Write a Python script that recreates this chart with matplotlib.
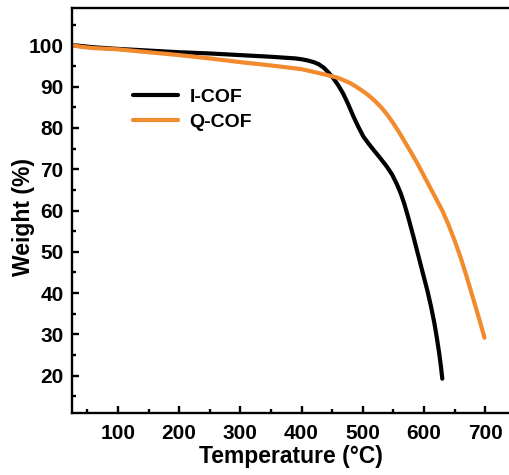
import numpy as np
import matplotlib
matplotlib.use("Agg")
import matplotlib.pyplot as plt
from matplotlib.ticker import MultipleLocator

plt.rcParams['font.family'] = ['Liberation Sans', 'DejaVu Sans']
plt.rcParams['font.weight'] = 'bold'

# TGA curves
i_temp = [25, 40, 60, 100, 150, 200, 250, 300, 350, 390, 400, 410, 420, 428,
          436, 444, 452, 460, 468, 476, 485, 493, 501, 510, 518, 528, 539, 548,
          556, 562, 568, 575, 583, 591, 599, 606, 612, 617, 621, 625, 628, 630]
i_weight = [100, 99.8, 99.5, 99.1, 98.7, 98.3, 98.0, 97.6, 97.2, 96.8, 96.6, 96.3,
            95.9, 95.4, 94.6, 93.4, 92.0, 90.3, 88.3, 85.8, 82.7, 80.2, 77.9, 76.1,
            74.6, 72.8, 70.7, 68.7, 66.3, 64.2, 61.6, 58.0, 53.6, 49.0, 44.4, 40.4,
            36.5, 32.8, 29.3, 25.4, 22.0, 19.3]

q_temp = [25, 40, 60, 100, 150, 200, 250, 300, 350, 400, 430, 460, 480, 490,
          500, 510, 520, 530, 540, 550, 560, 570, 580, 590, 600, 610, 620, 630,
          640, 650, 660, 670, 680, 690, 699]
q_weight = [100, 99.6, 99.3, 99.0, 98.3, 97.6, 96.8, 95.9, 95.1, 94.2, 93.2, 92.1,
            90.8, 89.9, 88.9, 87.8, 86.5, 85.0, 83.2, 81.1, 78.8, 76.3, 73.8, 71.2,
            68.4, 65.6, 62.8, 60.0, 56.6, 52.8, 48.6, 43.9, 38.9, 33.9, 29.2]

black = '#000000'
orange = '#F28A2E'

fig = plt.figure(figsize=(5.09, 4.75), dpi=100)
ax = fig.add_axes([72/509, 62/475, 1 - 72/509, (413 - 8)/475])

ax.plot(i_temp, i_weight, color=black, lw=3, solid_capstyle='round',
        solid_joinstyle='round', label='I-COF')
ax.plot(q_temp, q_weight, color=orange, lw=3, solid_capstyle='round',
        solid_joinstyle='round', label='Q-COF')

ax.set_xlim(25, 739)
ax.set_ylim(11, 109)
ax.xaxis.set_minor_locator(MultipleLocator(50))
ax.yaxis.set_minor_locator(MultipleLocator(5))
ax.set_xticks(range(100, 701, 100))
ax.set_yticks(range(20, 101, 10))

ax.spines['right'].set_visible(False)
for s in ['left', 'bottom', 'top']:
    ax.spines[s].set_linewidth(1.7)

ax.tick_params(which='both', direction='in', width=1.7, labelsize=15,
               top=False, right=False)
ax.tick_params(which='major', length=5)
ax.tick_params(which='minor', length=2.8)
ax.tick_params(axis='x', which='major', pad=8)
ax.tick_params(axis='y', which='major', pad=6)

ax.set_xlabel('Temperature (°C)', fontsize=16.5, fontweight='bold', labelpad=1.5)
ax.set_ylabel('Weight (%)', fontsize=16.5, fontweight='bold')
ax.yaxis.set_label_coords(-0.085, 0.484)

ax.legend(loc='upper left', bbox_to_anchor=(133/509, 1 - 88/475),
          bbox_transform=fig.transFigure, frameon=False, fontsize=14,
          handlelength=2.3, handletextpad=0.6, labelspacing=0.4,
          borderpad=0, borderaxespad=0)

fig.savefig('out.png', dpi=100)
